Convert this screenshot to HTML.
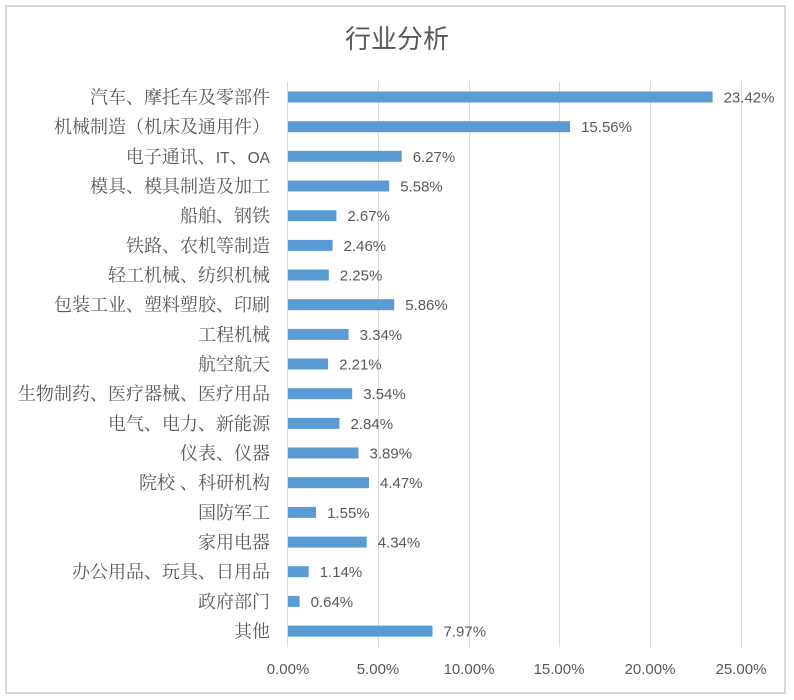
<!DOCTYPE html>
<html><head><meta charset="utf-8"><style>
body{margin:0;background:#fff;}
svg{display:block;}
</style></head><body>
<svg width="794" height="700" xmlns="http://www.w3.org/2000/svg">
<rect x="0" y="0" width="794" height="700" fill="#fff"/>
<rect x="6" y="6" width="779" height="687" fill="#fff" stroke="#d9d9d9" stroke-width="2"/>
<text x="397" y="48" text-anchor="middle" font-family="'Liberation Sans','Noto Sans CJK SC',sans-serif" font-size="26" fill="#595959">行业分析</text>
<g stroke="#d9d9d9" stroke-width="1">
<line x1="378.5" y1="82" x2="378.5" y2="647"/>
<line x1="469.5" y1="82" x2="469.5" y2="647"/>
<line x1="559.5" y1="82" x2="559.5" y2="647"/>
<line x1="650.5" y1="82" x2="650.5" y2="647"/>
<line x1="741.5" y1="82" x2="741.5" y2="647"/>
<line x1="287.5" y1="82" x2="287.5" y2="647"/>
</g>
<g fill="#5b9bd5">
<rect x="288" y="91.5" width="424.6" height="11"/>
<rect x="288" y="121.2" width="282.1" height="11"/>
<rect x="288" y="150.8" width="113.7" height="11"/>
<rect x="288" y="180.5" width="101.2" height="11"/>
<rect x="288" y="210.2" width="48.4" height="11"/>
<rect x="288" y="239.9" width="44.6" height="11"/>
<rect x="288" y="269.5" width="40.8" height="11"/>
<rect x="288" y="299.2" width="106.2" height="11"/>
<rect x="288" y="328.9" width="60.6" height="11"/>
<rect x="288" y="358.5" width="40.1" height="11"/>
<rect x="288" y="388.2" width="64.2" height="11"/>
<rect x="288" y="417.9" width="51.5" height="11"/>
<rect x="288" y="447.5" width="70.5" height="11"/>
<rect x="288" y="477.2" width="81.0" height="11"/>
<rect x="288" y="506.9" width="28.1" height="11"/>
<rect x="288" y="536.6" width="78.7" height="11"/>
<rect x="288" y="566.2" width="20.7" height="11"/>
<rect x="288" y="595.9" width="11.6" height="11"/>
<rect x="288" y="625.6" width="144.5" height="11"/>
</g>
<g font-family="'Liberation Sans','Noto Serif CJK SC',serif" font-size="18" fill="#595959" text-anchor="end">
<text x="270" y="103.5">汽车、摩托车及零部件</text>
<text x="270" y="133.2">机械制造（机床及通用件）</text>
<text x="270" y="162.8">电子通讯、<tspan font-size="15.5">IT</tspan>、<tspan font-size="15.5">OA</tspan></text>
<text x="270" y="192.5">模具、模具制造及加工</text>
<text x="270" y="222.2">船舶、钢铁</text>
<text x="270" y="251.9">铁路、农机等制造</text>
<text x="270" y="281.5">轻工机械、纺织机械</text>
<text x="270" y="311.2">包装工业、塑料塑胶、印刷</text>
<text x="270" y="340.9">工程机械</text>
<text x="270" y="370.5">航空航天</text>
<text x="270" y="400.2">生物制药、医疗器械、医疗用品</text>
<text x="270" y="429.9">电气、电力、新能源</text>
<text x="270" y="459.5">仪表、仪器</text>
<text x="270" y="489.2">院校 、科研机构</text>
<text x="270" y="518.9">国防军工</text>
<text x="270" y="548.6">家用电器</text>
<text x="270" y="578.2">办公用品、玩具、日用品</text>
<text x="270" y="607.9">政府部门</text>
<text x="270" y="637.6">其他</text>
</g>
<g font-family="'Liberation Sans',sans-serif" font-size="15" fill="#595959">
<text x="723.6" y="102.5">23.42%</text>
<text x="581.1" y="132.2">15.56%</text>
<text x="412.7" y="161.8">6.27%</text>
<text x="400.2" y="191.5">5.58%</text>
<text x="347.4" y="221.2">2.67%</text>
<text x="343.6" y="250.9">2.46%</text>
<text x="339.8" y="280.5">2.25%</text>
<text x="405.2" y="310.2">5.86%</text>
<text x="359.6" y="339.9">3.34%</text>
<text x="339.1" y="369.5">2.21%</text>
<text x="363.2" y="399.2">3.54%</text>
<text x="350.5" y="428.9">2.84%</text>
<text x="369.5" y="458.5">3.89%</text>
<text x="380.0" y="488.2">4.47%</text>
<text x="327.1" y="517.9">1.55%</text>
<text x="377.7" y="547.6">4.34%</text>
<text x="319.7" y="577.2">1.14%</text>
<text x="310.6" y="606.9">0.64%</text>
<text x="443.5" y="636.6">7.97%</text>
</g>
<g font-family="'Liberation Sans',sans-serif" font-size="15" fill="#595959" text-anchor="middle">
<text x="288" y="674">0.00%</text>
<text x="378" y="674">5.00%</text>
<text x="469" y="674">10.00%</text>
<text x="559" y="674">15.00%</text>
<text x="650" y="674">20.00%</text>
<text x="741" y="674">25.00%</text>
</g>
</svg>
</body></html>
